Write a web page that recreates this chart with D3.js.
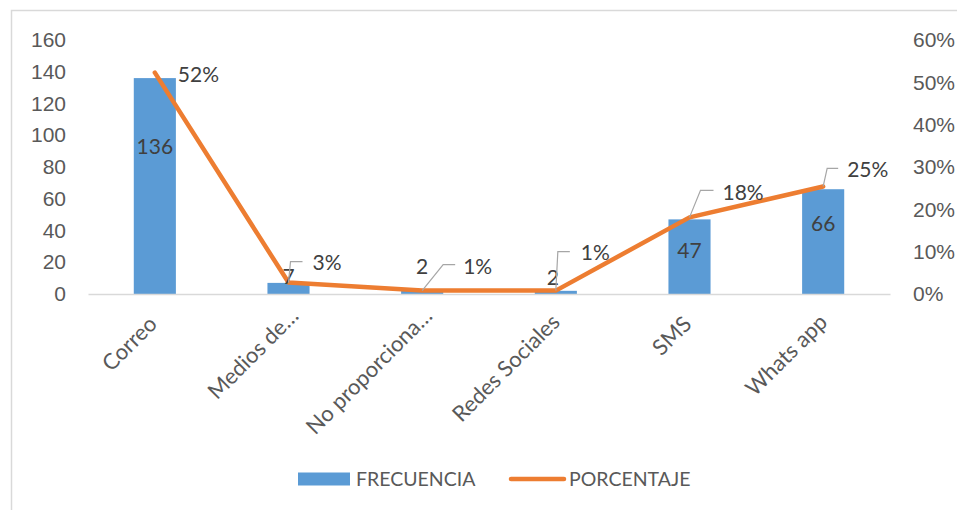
<!DOCTYPE html>
<html>
<head>
<meta charset="utf-8">
<script src="https://cdn.jsdelivr.net/npm/d3@7"></script>
<style>
  body { margin: 0; background: #fff; }
  svg { display: block; font-family: Lato, "Liberation Sans", sans-serif; }
</style>
</head>
<body>
<div id="canvas"></div>
<script>
const categories = ["Correo", "Medios de…", "No proporciona…", "Redes Sociales", "SMS", "Whats app"];
const frecuencia = [136, 7, 2, 2, 47, 66];
const porcentaje = [0.523, 0.027, 0.008, 0.008, 0.181, 0.254];
const pctLabels = ["52%", "3%", "1%", "1%", "18%", "25%"];
const leftTicks = [0, 20, 40, 60, 80, 100, 120, 140, 160];
const rightTicks = [0, 0.1, 0.2, 0.3, 0.4, 0.5, 0.6];

// label placement (pixel offsets from the mark), taken from the original layout
const barLabelShift = [[0, 69], [0, -6], [0, -24], [-3, -13], [0, 31], [0, 34]];
const pctLabelShift = [[23, 2], [24, -20], [41, -24], [25, -38], [33, -25], [24, -17]];
const leaderBend = [null, [2, -21, 14], [21, -26, 33], [2, -39, 14], [11, -27, 24], [4, -18, 15]];
const catShift = [0, 8, 8, 2, 0, 2];

const width = 958, height = 510;
const margin = { top: 40, left: 88, bottom: 216, right: 68 };
const iwidth = width - margin.left - margin.right;
const iheight = height - margin.top - margin.bottom;
const fs = "21px";

const svg = d3.select("#canvas").append("svg")
  .attr("width", width)
  .attr("height", height);

// chart frame (only top and left edges are inside the picture)
svg.append("path")
  .attr("d", "M11.5,510 V10.5 H957")
  .attr("fill", "none")
  .attr("stroke", "#d9d9d9")
  .attr("stroke-width", 1.5);

const g = svg.append("g").attr("transform", `translate(${margin.left},${margin.top})`);

const x = d3.scaleBand().domain(categories).range([0, iwidth]).paddingInner(0.685).paddingOuter(0.3425);
const y = d3.scaleLinear().domain([0, 160]).range([iheight, 0]);
const y2 = d3.scaleLinear().domain([0, 0.6]).range([iheight, 0]);
const cx = c => x(c) + x.bandwidth() / 2;

// left axis
const yAxis = g.append("g")
  .call(d3.axisLeft(y).tickValues(leftTicks).tickSize(0).tickPadding(22));
yAxis.select(".domain").remove();
yAxis.selectAll("text").attr("fill", "#595959").style("font-size", fs);

// right axis
const y2Axis = g.append("g")
  .attr("transform", `translate(${iwidth},0)`)
  .call(d3.axisRight(y2).tickValues(rightTicks).tickFormat(d3.format(".0%")).tickSize(0).tickPadding(23));
y2Axis.select(".domain").remove();
y2Axis.selectAll("text").attr("fill", "#595959").style("font-size", fs);

// bars
g.selectAll("rect.bar").data(frecuencia).enter().append("rect")
  .attr("class", "bar")
  .attr("x", (d, i) => x(categories[i]))
  .attr("y", d => y(d))
  .attr("width", x.bandwidth())
  .attr("height", d => iheight - y(d))
  .attr("fill", "#5b9bd5");

// x axis
const xAxis = g.append("g")
  .attr("transform", `translate(0,${iheight})`)
  .call(d3.axisBottom(x).tickSize(0).tickFormat(""));
xAxis.select(".domain").attr("stroke", "#d9d9d9").attr("stroke-width", 1.5);

g.selectAll("text.cat").data(categories).enter().append("text")
  .attr("class", "cat")
  .attr("transform", (d, i) => `translate(${cx(d) - 2 + catShift[i]},${iheight + 26 - catShift[i]}) rotate(-45)`)
  .attr("text-anchor", "end")
  .attr("dy", "0.35em")
  .attr("fill", "#595959")
  .style("font-size", "22px")
  .text(d => d);

// line
const line = d3.line()
  .x((d, i) => cx(categories[i]))
  .y(d => y2(d));

g.append("path")
  .datum(porcentaje)
  .attr("d", line)
  .attr("fill", "none")
  .attr("stroke", "#ed7d31")
  .attr("stroke-width", 4.5)
  .attr("stroke-linecap", "round")
  .attr("stroke-linejoin", "round");

// bar value labels
g.selectAll("text.val").data(frecuencia).enter().append("text")
  .attr("class", "val")
  .attr("x", (d, i) => cx(categories[i]) + barLabelShift[i][0])
  .attr("y", (d, i) => y(d) + barLabelShift[i][1])
  .attr("dy", "0.35em")
  .attr("text-anchor", "middle")
  .attr("fill", "#404040")
  .style("font-size", fs)
  .text(d => d);

// leader lines
const pts = porcentaje.map((d, i) => ({ d, i }));
g.selectAll("path.leader").data(pts.filter(p => leaderBend[p.i])).enter()
  .append("path")
  .attr("class", "leader")
  .attr("d", p => {
    const px = cx(categories[p.i]), py = y2(p.d), b = leaderBend[p.i];
    return `M${px},${py} L${px + b[0]},${py + b[1]} H${px + b[2]}`;
  })
  .attr("fill", "none")
  .attr("stroke", "#a6a6a6")
  .attr("stroke-width", 1.2);

// percentage labels
g.selectAll("text.pct").data(porcentaje).enter().append("text")
  .attr("class", "pct")
  .attr("x", (d, i) => cx(categories[i]) + pctLabelShift[i][0])
  .attr("y", (d, i) => y2(d) + pctLabelShift[i][1])
  .attr("dy", "0.35em")
  .attr("fill", "#404040")
  .style("font-size", fs)
  .text((d, i) => pctLabels[i]);

// legend
const legend = svg.append("g").attr("transform", "translate(0,479)");
legend.append("rect")
  .attr("x", 298).attr("y", -6.5)
  .attr("width", 52).attr("height", 13)
  .attr("fill", "#5b9bd5");
legend.append("text")
  .attr("x", 356).attr("dy", "0.35em")
  .attr("fill", "#595959").style("font-size", "19.5px")
  .text("FRECUENCIA");
legend.append("line")
  .attr("x1", 511).attr("x2", 564)
  .attr("stroke", "#ed7d31").attr("stroke-width", 4.5)
  .attr("stroke-linecap", "round");
legend.append("text")
  .attr("x", 569).attr("dy", "0.35em")
  .attr("fill", "#595959").style("font-size", "19.5px")
  .text("PORCENTAJE");
</script>
</body>
</html>
